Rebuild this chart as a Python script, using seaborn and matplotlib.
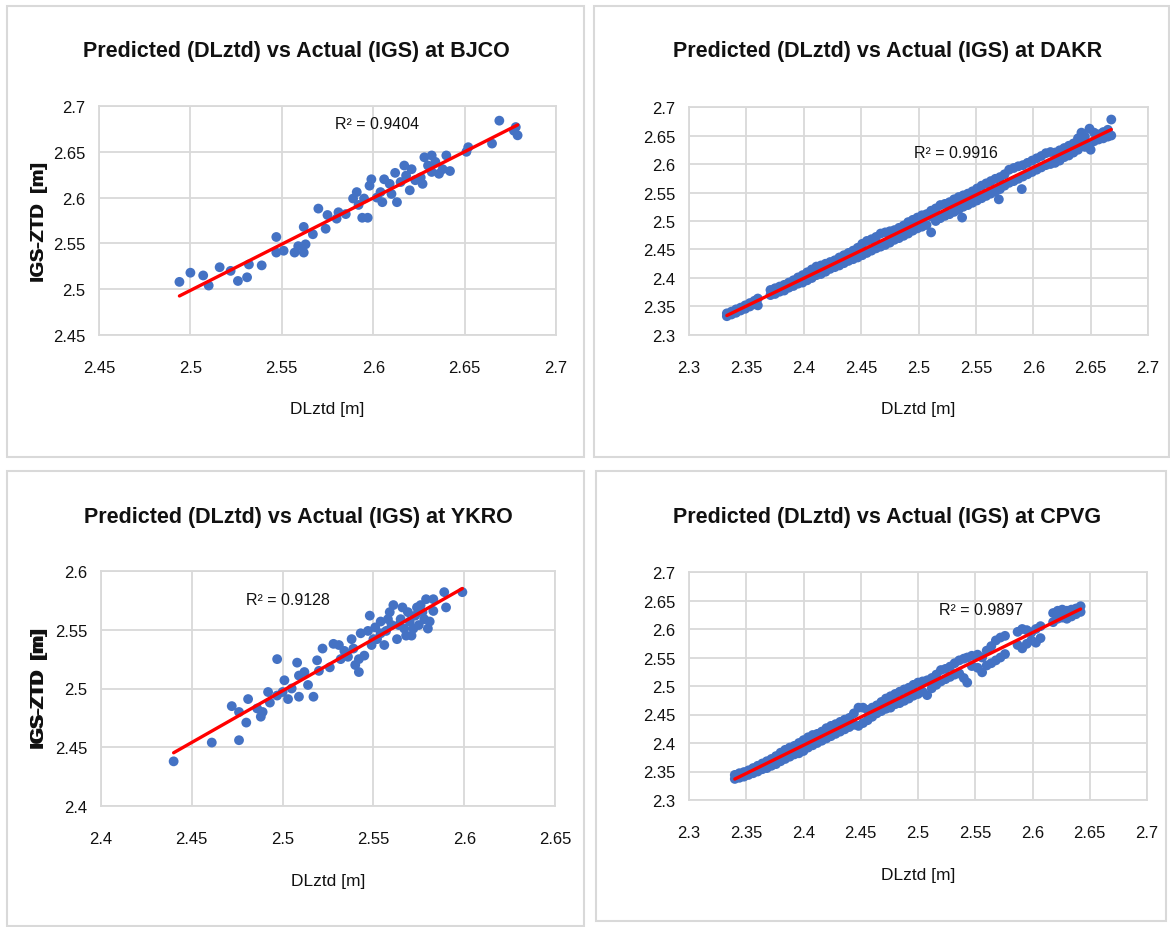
import numpy as np
import pandas as pd
import matplotlib.pyplot as plt
from matplotlib.patches import Rectangle
import seaborn as sns

sns.set_style("white")
plt.rcParams['font.family'] = ['Liberation Sans', 'DejaVu Sans']

stations = ["BJCO", "DAKR", "YKRO", "CPVG"]
r2_text = ["0.9404", "0.9916", "0.9128", "0.9897"]

# values (DLztd vs IGS-ZTD, metres)
bjco_x = [2.494, 2.500, 2.507, 2.510, 2.516, 2.522, 2.526, 2.531, 2.532, 2.539,
          2.547, 2.547, 2.551, 2.557, 2.559, 2.562, 2.562, 2.563, 2.567, 2.570,
          2.574, 2.575, 2.580, 2.581, 2.585, 2.589, 2.591, 2.592, 2.594, 2.597,
          2.595, 2.598, 2.599, 2.602, 2.604, 2.605, 2.606, 2.609, 2.610, 2.613,
          2.612, 2.615, 2.617, 2.618, 2.620, 2.621, 2.623, 2.626, 2.627, 2.628,
          2.630, 2.632, 2.632, 2.634, 2.636, 2.638, 2.640, 2.642, 2.651, 2.652,
          2.665, 2.669, 2.678, 2.679, 2.677]
bjco_y = [2.508, 2.518, 2.515, 2.504, 2.524, 2.520, 2.509, 2.513, 2.527, 2.526,
          2.557, 2.540, 2.542, 2.540, 2.547, 2.568, 2.540, 2.549, 2.560, 2.588,
          2.566, 2.581, 2.577, 2.584, 2.582, 2.599, 2.606, 2.592, 2.578, 2.578,
          2.599, 2.613, 2.620, 2.600, 2.606, 2.595, 2.620, 2.615, 2.604, 2.595,
          2.627, 2.617, 2.635, 2.624, 2.608, 2.631, 2.619, 2.622, 2.615, 2.644,
          2.635, 2.646, 2.628, 2.639, 2.626, 2.631, 2.646, 2.629, 2.650, 2.655,
          2.659, 2.684, 2.677, 2.668, 2.673]

dakr_x = [2.333, 2.333, 2.337, 2.337, 2.341, 2.341, 2.345, 2.345, 2.349, 2.349,
          2.353, 2.353, 2.357, 2.357, 2.360, 2.360,
          2.371, 2.371, 2.375, 2.375, 2.379, 2.379, 2.383, 2.383, 2.387, 2.387,
          2.391, 2.391, 2.395, 2.395, 2.399, 2.399, 2.403, 2.403, 2.407, 2.407,
          2.411, 2.411, 2.415, 2.415, 2.419, 2.419, 2.423, 2.423, 2.427, 2.427,
          2.431, 2.431, 2.435, 2.435, 2.439, 2.439, 2.443, 2.443, 2.447, 2.447,
          2.451, 2.451, 2.455, 2.455, 2.459, 2.459, 2.463, 2.463, 2.467, 2.467,
          2.471, 2.471, 2.475, 2.475, 2.479, 2.479, 2.483, 2.483, 2.487, 2.487,
          2.491, 2.491, 2.495, 2.495, 2.499, 2.499, 2.503, 2.503, 2.507, 2.507,
          2.511, 2.511, 2.511, 2.515, 2.515, 2.519, 2.519, 2.523, 2.523, 2.527, 2.527,
          2.531, 2.531, 2.535, 2.535, 2.538, 2.539, 2.539, 2.543, 2.543, 2.547, 2.547,
          2.551, 2.551, 2.555, 2.555, 2.559, 2.559, 2.563, 2.563, 2.567, 2.567,
          2.570, 2.571, 2.571, 2.575, 2.575, 2.579, 2.579, 2.583, 2.583, 2.587, 2.587,
          2.590, 2.591, 2.591, 2.595, 2.595, 2.599, 2.599, 2.603, 2.603, 2.607, 2.607,
          2.611, 2.611, 2.615, 2.615, 2.619, 2.619, 2.623, 2.623, 2.627, 2.627,
          2.631, 2.631, 2.635, 2.635, 2.639, 2.639, 2.642, 2.642, 2.645, 2.645,
          2.649, 2.649, 2.650, 2.653, 2.653, 2.657, 2.657, 2.661, 2.661, 2.665, 2.665,
          2.668, 2.668]
dakr_y = [2.333, 2.338, 2.336, 2.341, 2.339, 2.345, 2.343, 2.348, 2.346, 2.352,
          2.350, 2.356, 2.354, 2.360, 2.352, 2.364,
          2.370, 2.379, 2.372, 2.382, 2.376, 2.385, 2.378, 2.388, 2.383, 2.392,
          2.386, 2.396, 2.390, 2.401, 2.392, 2.405, 2.396, 2.410, 2.400, 2.415,
          2.405, 2.420, 2.407, 2.422, 2.411, 2.425, 2.416, 2.428, 2.419, 2.431,
          2.422, 2.436, 2.426, 2.440, 2.430, 2.444, 2.433, 2.448, 2.436, 2.453,
          2.440, 2.460, 2.444, 2.465, 2.448, 2.468, 2.452, 2.472, 2.455, 2.478,
          2.458, 2.480, 2.462, 2.482, 2.467, 2.484, 2.470, 2.488, 2.474, 2.492,
          2.478, 2.498, 2.483, 2.502, 2.487, 2.506, 2.490, 2.510, 2.493, 2.512,
          2.480, 2.508, 2.518, 2.500, 2.522, 2.505, 2.528, 2.509, 2.530, 2.512, 2.533,
          2.516, 2.538, 2.520, 2.542, 2.506, 2.525, 2.545, 2.528, 2.548, 2.532, 2.552,
          2.536, 2.557, 2.540, 2.562, 2.544, 2.566, 2.548, 2.570, 2.552, 2.574,
          2.538, 2.556, 2.577, 2.562, 2.582, 2.567, 2.590, 2.570, 2.593, 2.574, 2.596,
          2.556, 2.578, 2.598, 2.582, 2.602, 2.586, 2.606, 2.590, 2.610, 2.594, 2.614,
          2.598, 2.619, 2.600, 2.621, 2.602, 2.620, 2.606, 2.624, 2.612, 2.628,
          2.615, 2.632, 2.620, 2.636, 2.625, 2.645, 2.640, 2.655, 2.630, 2.648,
          2.633, 2.662, 2.625, 2.640, 2.655, 2.643, 2.652, 2.645, 2.656, 2.648, 2.660,
          2.650, 2.678]

ykro_x = [2.440, 2.461, 2.476, 2.472, 2.476, 2.480, 2.481, 2.486, 2.488, 2.489,
          2.492, 2.493, 2.497, 2.497, 2.500, 2.501, 2.503, 2.505, 2.508, 2.509,
          2.509, 2.512, 2.514, 2.517, 2.519, 2.520, 2.522, 2.526, 2.528, 2.531,
          2.534, 2.536, 2.538, 2.540, 2.542, 2.543, 2.545, 2.547, 2.548, 2.549,
          2.551, 2.552, 2.554, 2.556, 2.557, 2.559, 2.560, 2.561, 2.563, 2.565,
          2.566, 2.567, 2.569, 2.570, 2.571, 2.573, 2.575, 2.576, 2.578, 2.579,
          2.580, 2.581, 2.583, 2.583, 2.589, 2.590, 2.599, 2.558, 2.564, 2.568,
          2.572, 2.574, 2.577, 2.550, 2.554, 2.539, 2.542, 2.532]
ykro_y = [2.438, 2.454, 2.456, 2.485, 2.480, 2.471, 2.491, 2.483, 2.476, 2.480,
          2.497, 2.488, 2.525, 2.494, 2.497, 2.507, 2.491, 2.500, 2.522, 2.493,
          2.511, 2.514, 2.503, 2.493, 2.524, 2.515, 2.534, 2.518, 2.538, 2.537,
          2.532, 2.527, 2.542, 2.520, 2.514, 2.547, 2.528, 2.549, 2.562, 2.537,
          2.552, 2.542, 2.557, 2.537, 2.549, 2.565, 2.554, 2.571, 2.542, 2.559,
          2.569, 2.551, 2.565, 2.557, 2.545, 2.562, 2.554, 2.571, 2.559, 2.576,
          2.551, 2.557, 2.576, 2.566, 2.582, 2.569, 2.582, 2.559, 2.554, 2.545,
          2.551, 2.569, 2.565, 2.542, 2.547, 2.534, 2.525, 2.525]

cpvg_x = [2.340, 2.340, 2.344, 2.344, 2.348, 2.348, 2.352, 2.352, 2.356, 2.356,
          2.360, 2.360, 2.364, 2.364, 2.368, 2.368, 2.372, 2.372, 2.376, 2.376,
          2.380, 2.380, 2.384, 2.384, 2.388, 2.388, 2.392, 2.392, 2.396, 2.396,
          2.400, 2.400, 2.404, 2.404, 2.408, 2.408, 2.412, 2.412, 2.416, 2.416,
          2.420, 2.420, 2.424, 2.424, 2.428, 2.428, 2.432, 2.432, 2.436, 2.436,
          2.440, 2.440, 2.444, 2.444, 2.448, 2.448, 2.452, 2.452, 2.456, 2.456,
          2.460, 2.460, 2.464, 2.464, 2.468, 2.468, 2.472, 2.472, 2.476, 2.476,
          2.480, 2.480, 2.484, 2.484, 2.488, 2.488, 2.492, 2.492, 2.496, 2.496,
          2.500, 2.500, 2.504, 2.504, 2.508, 2.508, 2.512, 2.512, 2.516, 2.516,
          2.520, 2.520, 2.524, 2.524, 2.528, 2.528, 2.532, 2.532, 2.536, 2.536,
          2.540, 2.540, 2.543, 2.543, 2.547, 2.547, 2.552, 2.552, 2.556, 2.556,
          2.560, 2.560, 2.564, 2.564, 2.568, 2.568, 2.572, 2.572, 2.576, 2.576,
          2.587, 2.587, 2.591, 2.591, 2.595, 2.595, 2.599, 2.599, 2.603, 2.603,
          2.607, 2.607, 2.618, 2.618, 2.622, 2.622, 2.626, 2.626, 2.630, 2.630,
          2.634, 2.634, 2.638, 2.638, 2.642, 2.642]
cpvg_y = [2.337, 2.344, 2.339, 2.347, 2.341, 2.349, 2.344, 2.352, 2.347, 2.356,
          2.350, 2.360, 2.354, 2.364, 2.356, 2.368, 2.360, 2.372, 2.363, 2.377,
          2.368, 2.383, 2.372, 2.388, 2.376, 2.392, 2.380, 2.395, 2.382, 2.400,
          2.386, 2.405, 2.392, 2.410, 2.396, 2.414, 2.400, 2.416, 2.404, 2.420,
          2.408, 2.426, 2.412, 2.430, 2.416, 2.433, 2.420, 2.437, 2.424, 2.441,
          2.428, 2.444, 2.432, 2.452, 2.430, 2.462, 2.435, 2.462, 2.440, 2.458,
          2.446, 2.462, 2.452, 2.466, 2.456, 2.472, 2.460, 2.478, 2.462, 2.482,
          2.468, 2.486, 2.470, 2.490, 2.474, 2.494, 2.478, 2.497, 2.483, 2.502,
          2.486, 2.506, 2.490, 2.508, 2.484, 2.510, 2.496, 2.514, 2.502, 2.520,
          2.508, 2.528, 2.512, 2.530, 2.516, 2.534, 2.520, 2.540, 2.522, 2.545,
          2.514, 2.548, 2.506, 2.550, 2.535, 2.553, 2.532, 2.555, 2.524, 2.550,
          2.536, 2.562, 2.540, 2.570, 2.545, 2.580, 2.550, 2.585, 2.556, 2.588,
          2.572, 2.595, 2.566, 2.600, 2.574, 2.598, 2.580, 2.594, 2.576, 2.600,
          2.584, 2.605, 2.612, 2.628, 2.618, 2.632, 2.620, 2.634, 2.618, 2.632,
          2.622, 2.634, 2.626, 2.636, 2.630, 2.640]

xs = [bjco_x, dakr_x, ykro_x, cpvg_x]
ys = [bjco_y, dakr_y, ykro_y, cpvg_y]
x_lims = [(2.45, 2.7), (2.3, 2.7), (2.4, 2.65), (2.3, 2.7)]
y_lims = [(2.45, 2.7), (2.3, 2.7), (2.4, 2.6), (2.3, 2.7)]
r2_pos = [(2.602, 2.681), (2.533, 2.620), (2.503, 2.576), (2.555, 2.635)]

# layout in pixels: axes (left, top, right, bottom), panel frame, title centre
W, H = 1170, 928
ax_px = [(99, 107, 556, 336), (689, 108, 1148, 336),
         (101, 572, 555, 807), (689, 573, 1147, 801)]
frame_px = [(7, 7, 584, 458), (594, 7, 1169, 458),
            (7, 472, 584, 927), (596, 472, 1166, 922)]
title_px = [(296, 52), (888, 52), (298, 517), (887, 517)]
xlabel_y = [410, 410, 882, 876]

blue = "#4472C4"
grid = "#D9D9D9"

fig = plt.figure(figsize=(W / 100, H / 100), dpi=100)

for i in range(4):
    l, t, r, b = frame_px[i]
    fig.patches.append(Rectangle((l / W, 1 - b / H), (r - l) / W, (b - t) / H,
                                 transform=fig.transFigure, fill=False,
                                 edgecolor=grid, linewidth=1.5))

    l, t, r, b = ax_px[i]
    ax = fig.add_axes([l / W, 1 - b / H, (r - l) / W, (b - t) / H])
    df = pd.DataFrame({"DLztd": xs[i], "IGS": ys[i]})
    sns.scatterplot(data=df, x="DLztd", y="IGS", ax=ax, color=blue, s=50,
                    edgecolor="none", zorder=3)
    sns.regplot(data=df, x="DLztd", y="IGS", ax=ax, scatter=False, ci=None,
                color="red", line_kws={"linewidth": 2.4, "zorder": 4})

    x0, x1 = x_lims[i]
    y0, y1 = y_lims[i]
    ax.set_xlim(x0, x1)
    ax.set_ylim(y0, y1)
    xt = np.round(np.arange(x0, x1 + 0.001, 0.05), 2)
    yt = np.round(np.arange(y0, y1 + 0.001, 0.05), 2)
    ax.set_xticks(xt)
    ax.set_yticks(yt)
    ax.set_xticklabels([f"{v:g}" for v in xt])
    ax.set_yticklabels([f"{v:g}" for v in yt])
    ax.tick_params(axis="x", length=0, pad=18, labelsize=12, labelcolor="#111111")
    ax.tick_params(axis="y", length=0, pad=10, labelsize=12, labelcolor="#111111")
    ax.grid(True, color=grid, linewidth=1.3, zorder=0)
    ax.set_axisbelow(True)
    for sp in ax.spines.values():
        sp.set_color(grid)
        sp.set_linewidth(1.3)

    ax.set_xlabel("DLztd [m]", fontsize=12.5, color="#111111")
    ax.xaxis.set_label_coords(0.5, -(xlabel_y[i] - b) / (b - t))
    ax.xaxis.label.set_va("center")
    ax.set_ylabel("IGS-ZTD  [m]", fontsize=14, fontweight="bold", color="#111111")
    ax.yaxis.set_label_coords(-(l - 39) / (r - l), 0.5)
    ax.yaxis.label.set_va("center")

    ax.text(r2_pos[i][0], r2_pos[i][1], f"R² = {r2_text[i]}", fontsize=11.5,
            ha="center", va="center", color="#111111", zorder=5)

    tx, ty = title_px[i]
    fig.text(tx / W, 1 - ty / H, f"Predicted (DLztd) vs Actual (IGS) at {stations[i]}",
             fontsize=15.5, fontweight="bold", ha="center", va="center",
             color="#111111")

fig.savefig("out.png", dpi=100, facecolor="white")
